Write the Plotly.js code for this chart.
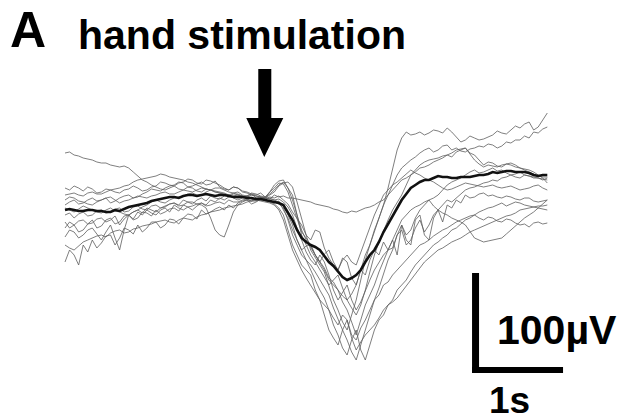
<!DOCTYPE html>
<html>
<head>
<meta charset="utf-8">
<script src="https://cdn.plot.ly/plotly-3.0.1.min.js"></script>
<style>html,body{margin:0;padding:0;background:#fff;}#chart{width:623px;height:420px;}</style>
</head>
<body>
<div id="chart"></div>
<script>
// sample times (s) relative to sweep start
const timeS = [0.00,0.05,0.10,0.15,0.20,0.25,0.30,0.35,0.40,0.45,0.50,0.55,0.60,0.65,0.70,0.75,0.80,0.85,0.90,0.95,
1.00,1.05,1.10,1.15,1.20,1.25,1.30,1.35,1.40,1.45,1.50,1.55,1.60,1.65,1.70,1.75,1.80,1.85,1.90,1.95,
2.00,2.05,2.10,2.15,2.20,2.25,2.30,2.35,2.40,2.45,2.50,2.55,2.60,2.65,2.70,2.75,2.80,2.85,2.90,2.95,
3.00,3.05,3.10,3.15,3.20,3.25,3.30,3.35,3.40,3.45,3.50,3.55,3.60,3.65,3.70,3.75,3.80,3.85,3.90,3.95,
4.00,4.05,4.10,4.15,4.20,4.25,4.30,4.35,4.40,4.45,4.50,4.55,4.60,4.65,4.70,4.75,4.80,4.85,4.90,4.95,
5.00,5.05,5.10,5.15,5.20,5.25,5.30];
const stimTime = 2.19; // hand stimulation onset (s)

// single trials (µV)
const trial1 = [57,58,55,54,52,51,50,48,47,47,45,44,43,44,42,38,34,30,28,25,23,21,20,22,24,21,20,23,22,19,18,21,20,18,17,16,15,17,18,15,14,17,16,14,13,18,22,27,26,18,5,-10,-22,-28,-35,-45,-52,-58,-68,-72,-80,-86,-90,-84,-75,-60,-45,-35,-22,-8,5,15,25,35,42,46,50,53,57,60,62,58,60,64,65,60,62,59,58,61,62,64,63,66,65,62,64,68,67,70,70,74,72,78,77,81,83];
const trial2 = [22,20,24,22,19,23,21,17,18,21,20,18,17,20,21,24,22,19,20,23,24,28,27,25,24,27,28,31,30,27,26,30,29,27,25,22,20,23,22,18,17,15,14,13,12,15,18,24,27,28,23,8,-10,-25,-40,-48,-55,-62,-75,-90,-100,-112,-120,-105,-90,-70,-50,-35,-20,-8,5,22,42,60,72,78,75,76,78,75,77,80,79,77,82,78,73,68,70,74,72,70,71,73,75,79,77,76,80,84,82,86,88,80,83,90,97];
const trial3 = [5,8,10,6,7,10,12,9,10,12,7,9,12,14,15,12,13,16,18,21,20,19,22,24,25,28,27,23,24,26,28,25,26,29,23,21,20,23,22,19,18,16,15,17,13,11,15,13,14,12,12,11,10,9,8,6,5,4,3,1,0,-2,-3,-1,-2,0,2,3,5,8,10,15,20,25,30,32,35,38,42,43,45,48,50,52,55,53,58,60,62,57,55,50,45,48,47,44,43,46,45,43,42,41,40,38,35,32,27];
const trial4 = [-52,-40,-45,-55,-35,-42,-30,-38,-33,-26,-25,-35,-28,-18,-20,-24,-15,-22,-18,-12,-12,-18,-15,-9,-10,-14,-8,-4,-5,-9,0,-4,-2,1,3,0,5,2,7,9,10,6,8,11,10,9,7,9,0,-8,-20,-30,-40,-50,-60,-70,-80,-88,-100,-115,-125,-138,-145,-130,-120,-140,-150,-135,-120,-110,-105,-95,-90,-80,-75,-70,-62,-55,-50,-45,-40,-35,-32,-28,-25,-20,-18,-14,-10,-8,-5,-2,0,2,3,5,7,4,6,8,7,5,4,3,2,1,0];
const trial5 = [-27,-20,-22,-28,-25,-20,-18,-24,-30,-22,-15,-28,-40,-20,-5,-10,-8,-2,-3,-6,0,-4,-2,1,2,-1,5,3,0,4,7,5,10,8,12,10,13,14,15,13,14,16,12,13,11,12,10,11,8,3,-5,-18,-30,-42,-50,-55,-45,-52,-65,-80,-90,-82,-75,-90,-100,-92,-80,-70,-60,-52,-45,-40,-30,-45,-15,-25,-20,-8,0,5,10,12,15,20,25,28,30,32,35,38,40,37,38,40,42,39,40,37,35,36,38,35,34,33,32,30,32];
const trial6 = [-5,-3,-8,-4,-2,-6,-5,-1,0,-3,-2,1,2,-2,-1,3,4,1,0,4,5,2,3,6,7,4,5,8,8,6,5,2,-8,-20,-25,-27,-15,-2,5,8,10,9,12,10,11,13,12,14,10,6,-2,-8,-15,-25,-30,-20,-22,-38,-48,-55,-60,-48,-52,-68,-75,-60,-65,-50,-40,-45,-32,-40,-38,-25,-20,-35,-30,-18,-10,-22,-15,-5,0,5,10,8,12,16,20,22,23,25,27,28,30,29,32,33,35,33,32,35,34,32,32,31,30];
const trial7 = [-12,-18,-15,-11,-10,-14,-13,-9,-8,-12,-10,-6,-15,-9,-5,-2,0,-3,2,0,-2,2,4,6,7,5,10,8,6,10,12,9,14,12,11,14,15,12,10,12,13,11,10,12,9,8,6,2,-5,-20,-35,-45,-55,-60,-65,-80,-90,-95,-100,-108,-115,-105,-110,-125,-130,-118,-110,-100,-90,-85,-75,-72,-65,-60,-55,-50,-45,-40,-35,-33,-30,-26,-23,-20,-18,-15,-12,-10,-8,-6,-5,-8,-10,-7,-8,-11,-12,-9,-10,-13,-15,-14,-17,-13,-12,-14,-13];
const trial8 = [2,0,-2,1,4,2,0,-2,-3,0,2,-1,-2,-4,-5,-2,0,3,5,8,10,8,7,10,12,13,14,16,17,15,15,18,20,18,17,15,14,16,16,14,12,11,10,12,12,11,10,8,4,-5,-15,-30,-40,-36,-35,-45,-52,-60,-70,-75,-80,-92,-100,-112,-125,-110,-95,-85,-75,-62,-50,-40,-30,-20,-10,-5,0,3,5,8,10,4,0,-3,-5,-8,-10,-12,-15,-22,-28,-30,-32,-31,-30,-29,-28,-24,-20,-16,-12,-8,-5,-2,2,6,10];
const trial9 = [10,13,12,9,8,6,5,8,10,12,13,10,7,9,10,12,14,13,12,14,15,17,18,16,16,18,20,19,18,20,22,21,20,19,18,17,15,13,12,13,14,12,11,12,13,16,20,25,28,22,15,-5,-25,-35,-45,-52,-60,-68,-75,-70,-65,-78,-90,-98,-105,-95,-80,-62,-45,-32,-20,-10,0,8,15,25,35,40,45,48,50,51,52,54,55,57,60,61,62,56,50,46,43,45,44,43,45,46,47,45,42,40,38,36,34,33,33];
const trial10 = [-18,-12,-15,-22,-20,-14,-10,-18,-16,-10,-8,-14,-12,-6,-5,-9,-2,-5,0,-3,-5,0,2,-2,5,2,0,3,4,6,7,4,5,7,8,6,10,8,8,10,11,9,9,10,10,9,8,6,2,-10,-25,-35,-45,-50,-55,-62,-70,-78,-85,-98,-110,-120,-130,-142,-150,-135,-120,-105,-90,-78,-65,-50,-40,-25,-15,-30,-35,-10,-5,-25,-30,-8,0,-12,5,2,10,7,15,12,13,16,17,14,15,13,12,14,13,11,10,12,12,9,8,9,10];
const trial11 = [15,16,17,15,14,17,18,16,16,18,20,21,22,24,25,28,30,31,32,33,34,36,35,33,32,31,30,28,27,25,23,21,20,22,22,20,18,17,15,14,13,15,14,13,12,18,25,29,30,22,10,-5,-20,-30,-38,-45,-52,-44,-40,-52,-60,-50,-45,-52,-55,-42,-30,-18,-5,5,15,20,25,28,32,36,40,37,35,32,30,28,25,22,20,21,23,25,27,26,25,24,23,24,25,23,22,23,24,22,20,21,22,24,25,22,20];
const trial12 = [-35,-38,-40,-36,-32,-30,-28,-26,-25,-27,-23,-21,-20,-23,-22,-19,-18,-16,-15,-14,-12,-11,-10,-12,-13,-10,-8,-9,-10,-7,-5,-4,-2,-1,0,2,3,4,5,6,8,9,10,9,8,7,5,0,-10,-25,-40,-50,-60,-68,-75,-82,-90,-105,-120,-128,-135,-120,-110,-128,-140,-132,-125,-120,-115,-108,-100,-95,-92,-88,-82,-76,-70,-64,-58,-52,-48,-44,-40,-38,-35,-32,-30,-28,-25,-22,-20,-18,-16,-14,-12,-10,-8,-6,-5,-3,0,1,2,3,4,4,5];

// averaged response (µV)
const average = [0,1,0,-1,-1,0,0,-1,-1,-2,-2,0,-1,1,3,4,5,6,7,9,10,11,12,13,13,12,14,15,15,14,15,16,15,14,15,15,14,13,13,13,12,12,11,11,10,9,8,7,5,-2,-10,-20,-28,-32,-35,-37,-40,-46,-52,-56,-62,-67,-70,-68,-65,-60,-52,-45,-40,-32,-22,-14,-5,3,10,16,22,25,28,30,30,32,34,33,33,32,32,33,33,33,34,35,35,36,38,37,38,39,39,38,38,38,37,35,34,35,35];

// scale bar values
const scaleTime = 1;    // s
const scaleVolt = 100;  // µV

const trials = [trial1,trial2,trial3,trial4,trial5,trial6,trial7,trial8,trial9,trial10,trial11,trial12];

const data = trials.map(v => ({
  x: timeS.slice(0, v.length), y: v, type: 'scatter', mode: 'lines',
  line: {color: 'rgba(95,95,95,0.8)', width: 1}, hoverinfo: 'skip', showlegend: false
}));
data.push({
  x: timeS.slice(0, average.length), y: average, type: 'scatter', mode: 'lines',
  line: {color: '#111', width: 2.6}, hoverinfo: 'skip', showlegend: false
});

// scale bar position (data units)
const sbX = 4.473, sbY = -163;
const sbW = 0.077, sbH = 6;
const shapes = [
  {type: 'rect', xref: 'x', yref: 'y', x0: sbX, x1: sbX + sbW, y0: sbY, y1: sbY + scaleVolt, fillcolor: '#000', line: {width: 0}},
  {type: 'rect', xref: 'x', yref: 'y', x0: sbX, x1: sbX + scaleTime, y0: sbY, y1: sbY + sbH, fillcolor: '#000', line: {width: 0}}
];
// stimulus arrow
const s = stimTime;
const arrowPath = 'M ' + (s-0.066) + ',141 L ' + (s+0.077) + ',141 L ' + (s+0.077) + ',92 L ' + (s+0.209) + ',92 L ' + s + ',53 L ' + (s-0.198) + ',92 L ' + (s-0.066) + ',92 Z';
shapes.push({type: 'path', xref: 'x', yref: 'y', path: arrowPath, fillcolor: '#000', line: {width: 0}});

const font = 'Liberation Sans, Arial, Helvetica, sans-serif';
const annotations = [
  {text: 'A', xref: 'paper', yref: 'paper', x: 8/623, y: 1 - 30/420, xanchor: 'left', yanchor: 'middle', showarrow: false, font: {family: font, size: 50, color: '#000', weight: 'bold'}},
  {text: 'hand stimulation', xref: 'paper', yref: 'paper', x: 76/623, y: 1 - 35/420, xanchor: 'left', yanchor: 'middle', showarrow: false, font: {family: font, size: 41, color: '#000', weight: 'bold'}},
  {text: scaleVolt + 'µV', xref: 'paper', yref: 'paper', x: 619/623, y: 1 - 330/420, xanchor: 'right', yanchor: 'middle', showarrow: false, font: {family: font, size: 41, color: '#000', weight: 'bold'}},
  {text: scaleTime + 's', xref: 'paper', yref: 'paper', x: 487/623, y: 1 - 400/420, xanchor: 'left', yanchor: 'middle', showarrow: false, font: {family: font, size: 37, color: '#000', weight: 'bold'}}
];

const layout = {
  width: 623, height: 420,
  margin: {l: 0, r: 0, t: 0, b: 0, pad: 0},
  paper_bgcolor: '#fff', plot_bgcolor: '#fff',
  xaxis: {range: [-65/91, 558/91], visible: false, fixedrange: true},
  yaxis: {range: [-210, 210], visible: false, fixedrange: true},
  shapes: shapes,
  annotations: annotations,
  showlegend: false
};

Plotly.newPlot('chart', data, layout, {staticPlot: true, displayModeBar: false});
</script>
</body>
</html>
